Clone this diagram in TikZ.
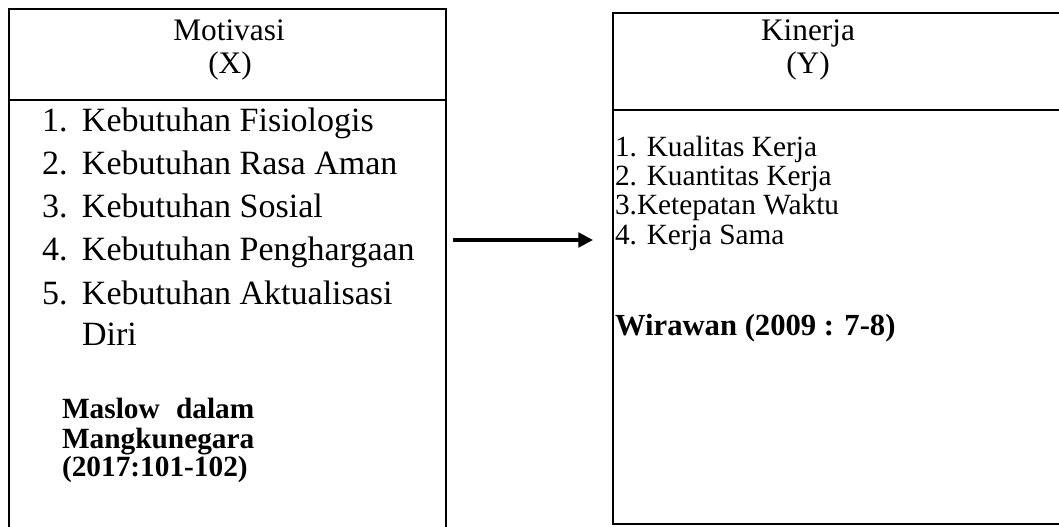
\documentclass[tikz,border=0pt]{standalone}
\usepackage{fontspec}
\setmainfont{Liberation Serif}
\usepackage{calc}
\usetikzlibrary{arrows.meta}
\tikzset{
  boxline/.style={draw=black, line width=2pt},
  ltxt/.style={inner sep=0pt, outer sep=0pt, font=\fontsize{25.5}{30}\selectfont, anchor=base west},
  rtxt/.style={inner sep=0pt, outer sep=0pt, font=\fontsize{22}{26}\selectfont, anchor=base west, text height=14pt, text depth=4pt},
  ttl/.style={inner sep=0pt, outer sep=0pt, font=\fontsize{23.5}{28}\selectfont, anchor=base},
  srcl/.style={inner sep=0pt, outer sep=0pt, font=\fontsize{22}{26}\selectfont\bfseries, anchor=base west},
  srcr/.style={inner sep=0pt, outer sep=0pt, font=\fontsize{23}{27}\selectfont\bfseries, anchor=base west},
  conn/.style={line width=2.4pt, -{Triangle[length=11pt,width=11pt]}}
}
\newcommand{\numitem}[2]{\makebox[30pt][l]{#1}#2}
\begin{document}
\begin{tikzpicture}[x=0.75pt,y=-0.75pt]
\useasboundingbox (0,0) rectangle (1059,527);
\clip (0,0) rectangle (1059,527);
% left box
\draw[boxline] (9,560) -- (9,9) -- (446,9) -- (446,560);
\draw[boxline] (9,100) -- (446,100);
% right box
\draw[boxline] (613,13) rectangle (1075,524);
\draw[boxline] (613,110) -- (1075,110);
% titles
\node[ttl] (tx1) at (229,41) {Motivasi};
\node[ttl] (tx2) at (230,74) {(X)};
\node[ttl] (ty1) at (808,41) {Kinerja};
\node[ttl] (ty2) at (808,74) {(Y)};
% left list
\node[ltxt] (l1) at (42,132) {\numitem{1.}{Kebutuhan Fisiologis}};
\node[ltxt] (l2) at (42,175) {\numitem{2.}{Kebutuhan Rasa Aman}};
\node[ltxt] (l3) at (42,218) {\numitem{3.}{Kebutuhan Sosial}};
\node[ltxt] (l4) at (42,260) {\numitem{4.}{Kebutuhan Penghargaan}};
\node[ltxt] (l5) at (42,304) {\numitem{5.}{Kebutuhan Aktualisasi}};
\node[ltxt] (l6) at (82,345) {Diri};
\node[srcl] (s1) at (62,418) {\makebox[\widthof{Mangkunegara}][s]{Maslow dalam}};
\node[srcl] (s2) at (62,448) {Mangkunegara};
\node[srcl] (s3) at (62,476) {(2017:101-102)};
% right list
\node[rtxt] (r1) at (615,157) {1. Kualitas Kerja};
\node[rtxt] (r2) at (615,186) {2. Kuantitas Kerja};
\node[rtxt] (r3) at (615,215) {3.Ketepatan Waktu};
\node[rtxt] (r4) at (615,244) {4. Kerja Sama};
\node[srcr] (w1) at (615,335) {Wirawan (2009 : 7-8)};
% arrow
\coordinate (a1) at (453,240);
\coordinate (a2) at (593,240);
\draw[conn] (a1) -- (a2);
\end{tikzpicture}
\end{document}
